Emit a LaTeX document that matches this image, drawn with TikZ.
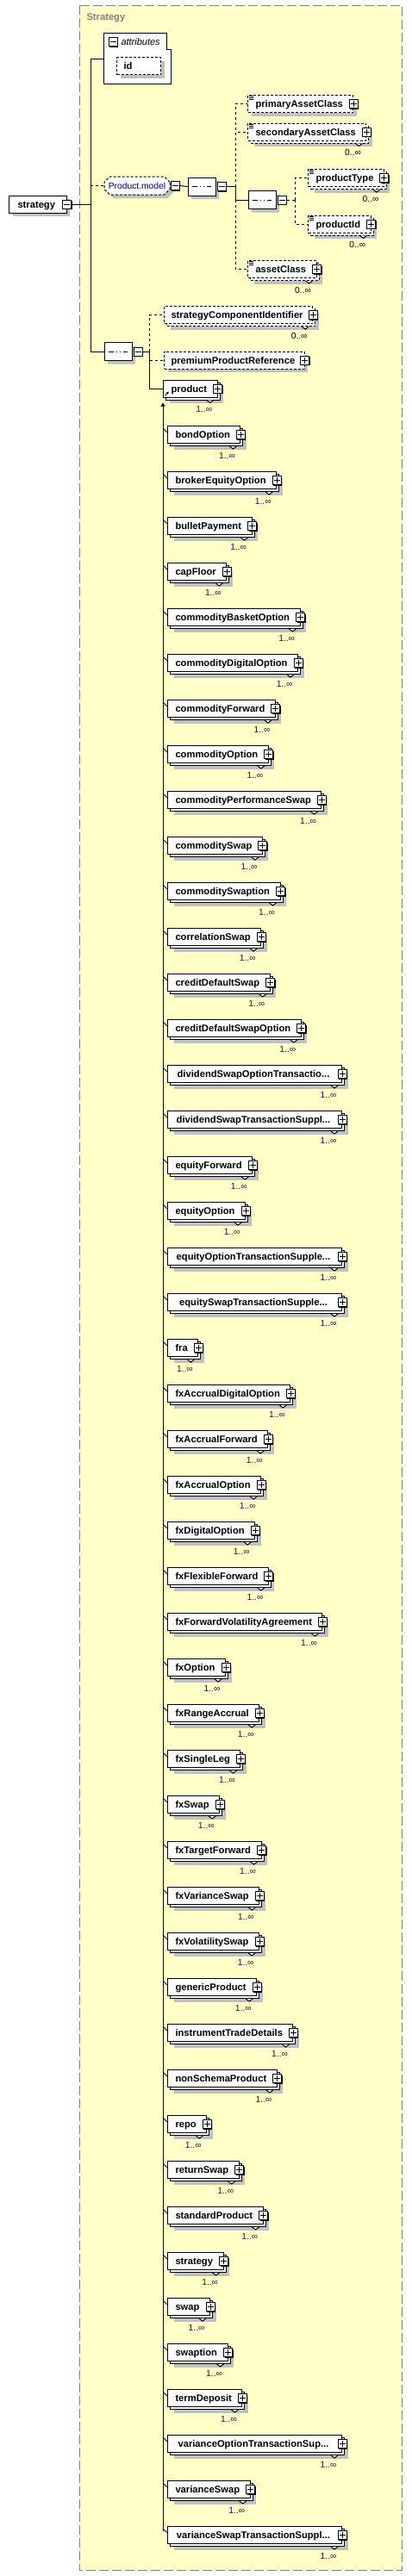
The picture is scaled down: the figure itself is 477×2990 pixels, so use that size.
\documentclass[tikz,border=0pt]{standalone}
\usepackage{fontspec}
\setmainfont{Liberation Sans}
\usetikzlibrary{calc,shadows,shapes.misc,arrows.meta}

\definecolor{groupfill}{RGB}{255,255,200}
\definecolor{groupline}{RGB}{128,128,128}
\definecolor{shadowgray}{RGB}{192,192,192}
\definecolor{modelblue}{RGB}{0,0,128}
\definecolor{occurcolor}{RGB}{80,0,64}

\newcommand{\elfont}{\fontsize{11.2}{13}\selectfont\bfseries}
\newcommand{\smfont}{\fontsize{10.3}{12}\selectfont}
\newcommand{\elide}{...}

\tikzset{
  elem/.style={draw, fill=white, rectangle, anchor=west, inner xsep=9pt, inner ysep=0pt,
    minimum height=20pt, text height=8pt, text depth=0pt, font=\elfont,
    execute at end node={\hspace*{3pt}}},
  single/.style={general shadow={fill=shadowgray, shadow xshift=4pt, shadow yshift=-4pt}},
  stacked/.style={general shadow={fill=shadowgray, shadow xshift=7pt, shadow yshift=-7pt},
    general shadow={fill=white, draw=black, shadow xshift=3pt, shadow yshift=-3pt}},
  optional/.style={dash pattern=on 3pt off 2pt},
  optlink/.style={dash pattern=on 3pt off 3pt},
  toggle/.style={draw, fill=white, minimum size=10pt, inner sep=0pt,
    general shadow={fill=black, shadow xshift=1pt, shadow yshift=-1pt}},
  plus/.style={toggle, path picture={
    \draw (path picture bounding box.center) +(-3.5,0) -- +(3.5,0) +(0,-3.5) -- +(0,3.5);}},
  minus/.style={toggle, path picture={
    \draw (path picture bounding box.center) +(-3.5,0) -- +(3.5,0);}},
  compositor/.style={draw, fill=white, chamfered rectangle, chamfered rectangle xsep=5pt,
    minimum width=32pt, minimum height=21pt, inner sep=0pt,
    general shadow={fill=shadowgray, shadow xshift=4pt, shadow yshift=-4pt},
    path picture={
      \draw (path picture bounding box.center) +(-11,0) -- +(11,0);
      \foreach \dx in {-4,0,4}
        \fill (path picture bounding box.center) ++(\dx-1.5,-1.5) rectangle ++(3,3);}},
  groupref/.style={draw, fill=white, chamfered rectangle, chamfered rectangle xsep=3pt,
    optional, minimum width=76pt, minimum height=21pt, inner sep=0pt,
    text height=7.5pt, text depth=0pt, font=\smfont, text=modelblue,
    general shadow={fill=shadowgray, shadow xshift=4pt, shadow yshift=-4pt}},
  occurs/.style={anchor=east, inner sep=0pt, text height=7pt, text depth=0pt, font=\smfont},
  caption/.style={anchor=west, inner sep=0pt, text height=8pt, text depth=0pt},
}

\begin{document}
\begin{tikzpicture}[x=1pt, y=-1pt, line width=1pt]
\useasboundingbox (0,0) rectangle (477,2990);

% complex type box
\draw[fill=groupfill, draw=groupline, dash pattern=on 11pt off 4pt] (92,6) rectangle (466,2983);
\node[caption, font=\elfont, text=groupline] (group-title) at (100,19) {Strategy};

% root element
\node[elem, single, inner xsep=10pt] (strategy) at (10,237) {strategy};
\node[minus] (strategy-t) at (strategy.east) {};

% attributes
\draw[fill=white] (120,38) -- (193,38) -- (193,57) -- (198,57) -- (198,97) -- (120,97) -- cycle;
\node[minus] (attr-t) at (131,48.5) {};
\node[caption, font=\fontsize{11}{13}\selectfont\itshape] (attributes) at (140,48.5) {attributes};
\node[elem, single, optional, inner xsep=8pt, text width=35pt] (id) at (135,76.5) {id};
\coordinate (attr-in) at (120,68);

% trunk
\coordinate (trunk-top) at (105,68);
\coordinate (trunk-end) at (105,408);
\draw (trunk-top) -- (trunk-end);
\draw (strategy-t.east) -- (strategy-t.east -| trunk-top);
\draw (trunk-top) -- (attr-in);

% Product.model
\node[groupref] (model) at (159,215.5) {Product.model};
\node[minus, anchor=west] (model-t) at (model.east) {};
\draw[optlink] (trunk-top |- model.west) -- (model.west);
\node[compositor] (seq-a) at (234,216.5) {};
\node[minus, anchor=west] (seq-a-t) at ([shift={(1,0)}]seq-a.east) {};
\draw (model-t.east) -- (seq-a.west);
\coordinate (seq-a-fork) at (273,216.5);
\draw (seq-a-t.east) -- (seq-a-fork);

\node[elem, single, optional] (primaryAssetClass) at (287,120.5) {primaryAssetClass};
\node[elem, stacked, optional] (secondaryAssetClass) at (287,153) {secondaryAssetClass};
\node[compositor] (seq-b) at (304,232) {};
\node[minus, anchor=west] (seq-b-t) at ([shift={(1,0)}]seq-b.east) {};
\node[elem, stacked, optional] (productType) at (357,206.5) {productType};
\node[elem, stacked, optional] (productId) at (357,260) {productId};
\node[elem, stacked, optional] (assetClass) at (287,312.5) {assetClass};

\draw[optlink] (seq-a-fork) |- (primaryAssetClass.west);
\draw[optlink] (seq-a-fork) |- (secondaryAssetClass.west);
\draw (seq-a-fork) |- (seq-b.west);
\draw[optlink] (seq-a-fork |- seq-b.west) |- (assetClass.west);
\coordinate (seq-b-fork) at (342,232);
\draw[optlink] (seq-b-t.east) -- (seq-b-fork);
\draw[optlink] (seq-b-fork) |- (productType.west);
\draw[optlink] (seq-b-fork) |- (productId.west);

% main sequence
\node[compositor] (seq-main) at (137,408) {};
\node[minus, anchor=west] (seq-main-t) at ([shift={(1,0)}]seq-main.east) {};
\draw (trunk-end) -- (seq-main.west);
\coordinate (seq-main-fork) at (173.5,408);
\draw (seq-main-t.east) -- (seq-main-fork);

\node[elem, stacked, optional, inner xsep=8pt] (strategyComponentIdentifier) at (190,365.5) {strategyComponentIdentifier};
\node[elem, single, optional, inner xsep=8pt] (premiumProductReference) at (190,418) {premiumProductReference};
\node[elem, stacked] (product) at (189,451) {product};
\draw[optlink] (seq-main-fork) |- (strategyComponentIdentifier.west);
\draw[optlink] (seq-main-fork |- premiumProductReference.west) -- (premiumProductReference.west);
\draw (seq-main-fork) |- (product.west);
\draw[-{Latex[length=3pt,width=3pt]}, line width=0.8pt] ([shift={(2.5,-2.5)}]product.south west) -- ++(4.5,-4.5);

% expand boxes and occurrences
\foreach \el in {primaryAssetClass,secondaryAssetClass,productType,productId,assetClass,strategyComponentIdentifier,premiumProductReference,product}
  \node[plus] (\el-t) at (\el.east) {};
\foreach \el in {secondaryAssetClass,productType,productId,assetClass,strategyComponentIdentifier}{
  \draw[fill=white] ([shift={(-13,3)}]\el.south east) -- ++(4,3) -- ++(4,-3);
  \node[occurs] (\el-n) at ([shift={(-6,13.5)}]\el.south east) {0..∞};
}
\draw[fill=white] ([shift={(-13,3)}]product.south east) -- ++(4,3) -- ++(4,-3);
\node[occurs, text=occurcolor] (product-n) at ([shift={(-6,13.5)}]product.south east) {1..∞};
\foreach \el in {primaryAssetClass,secondaryAssetClass,productType,productId,assetClass}
  \foreach \d in {1.8,3.8,5.8}
    \draw[line width=0.7pt] ([shift={(1.5,\d)}]\el.north west) -- ++(5.5,0);

% substitution group
\coordinate (subst-top) at ([shift={(0,6)}]product.south west);
\coordinate (subst-end) at (189,2938);
\draw[-{Triangle[length=4pt,width=5pt]}] (subst-end) -- (subst-top);
\foreach \lbl/\mw [count=\i] in {bondOption/0, brokerEquityOption/0, bulletPayment/0, capFloor/0,
    commodityBasketOption/0, commodityDigitalOption/0, commodityForward/0, commodityOption/0,
    commodityPerformanceSwap/0, commoditySwap/0, commoditySwaption/0, correlationSwap/0,
    creditDefaultSwap/0, creditDefaultSwapOption/0, dividendSwapOptionTransactio\elide/202,
    dividendSwapTransactionSuppl\elide/202, equityForward/0, equityOption/0,
    equityOptionTransactionSupple\elide/202, equitySwapTransactionSupple\elide/202, fra/0,
    fxAccrualDigitalOption/0, fxAccrualForward/0, fxAccrualOption/0, fxDigitalOption/0,
    fxFlexibleForward/0, fxForwardVolatilityAgreement/0, fxOption/0, fxRangeAccrual/0,
    fxSingleLeg/0, fxSwap/0, fxTargetForward/0, fxVarianceSwap/0, fxVolatilitySwap/0,
    genericProduct/0, instrumentTradeDetails/0, nonSchemaProduct/0, repo/0, returnSwap/0,
    standardProduct/0, strategy/0, swap/0, swaption/0, termDeposit/0,
    varianceOptionTransactionSup\elide/202, varianceSwap/0, varianceSwapTransactionSuppl\elide/202}{
  \pgfmathsetmacro{\cy}{504.5+53*(\i-1)}
  \node[elem, stacked, minimum width=\mw pt] (subst\i) at (194,\cy) {\lbl};
  \node[plus] (subst\i-t) at (subst\i.east) {};
  \draw[fill=white] ([shift={(-13,3)}]subst\i.south east) -- ++(4,3) -- ++(4,-3);
  \node[occurs, text=occurcolor] (subst\i-n) at ([shift={(-6,13.5)}]subst\i.south east) {1..∞};
  \coordinate (subst\i-j) at (189,\cy-7.5);
  \draw (subst\i-j) -- ([shift={(0,-2.5)}]subst\i.west);
}
\end{tikzpicture}
\end{document}
